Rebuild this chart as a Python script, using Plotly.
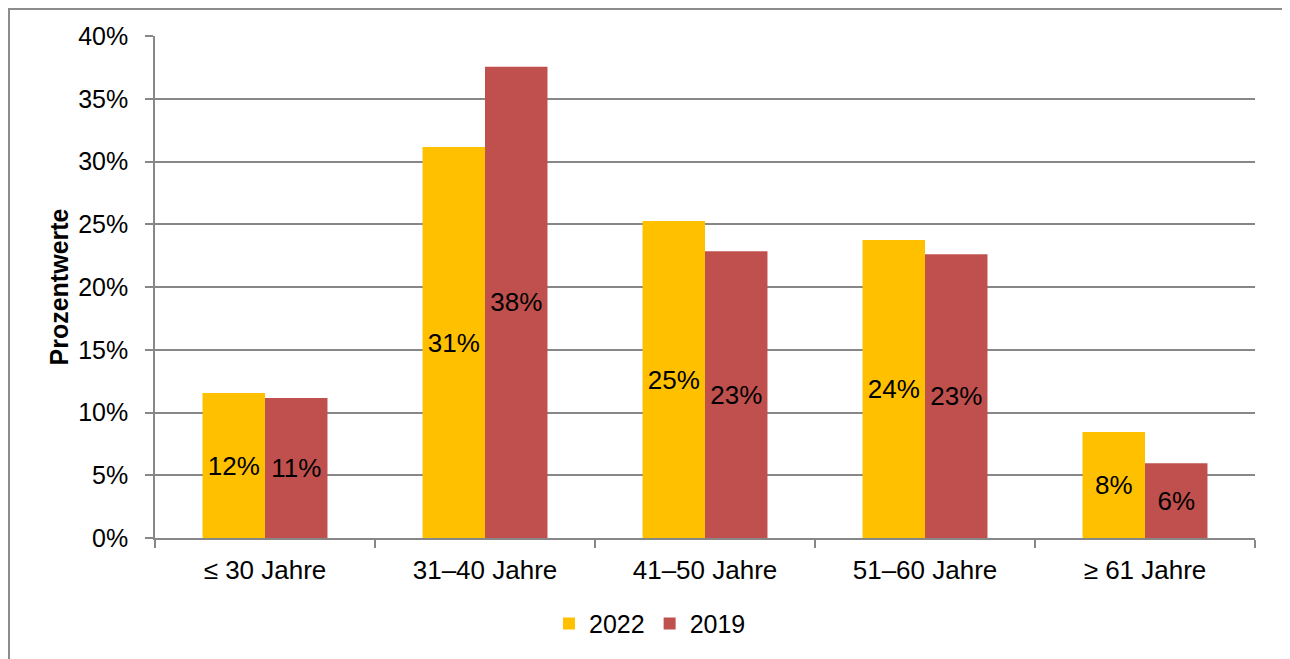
import plotly.graph_objects as go

categories = ["≤ 30 Jahre", "31–40 Jahre", "41–50 Jahre", "51–60 Jahre", "≥ 61 Jahre"]
values_2022 = [11.55, 31.15, 25.25, 23.75, 8.45]
values_2019 = [11.15, 37.55, 22.85, 22.6, 5.95]
y_ticks = [0, 5, 10, 15, 20, 25, 30, 35, 40]
y_tick_labels = [f"{v}%" for v in y_ticks]

FONT = "Liberation Sans, Arial, sans-serif"
GRID = "#878787"

# figure-pixel geometry (page is offset by the 8px body margin)
L, R, T, B = 147, 43, 28, 129
W, H = 1290, 659
PW, PH = W - L - R, H - T - B


def px_to_paper_x(fx):
    return (fx - L) / PW


def px_to_paper_y(fy):
    return (H - B - fy) / PH


fig = go.Figure()
for name, vals, color in [("2022", values_2022, "#FFC000"), ("2019", values_2019, "#C0504D")]:
    fig.add_trace(go.Bar(
        name=name, x=categories, y=vals,
        marker=dict(color=color, line=dict(width=0)),
        text=[f"{round(v):.0f}%" for v in vals],
        textposition="inside", insidetextanchor="middle",
        textfont=dict(family=FONT, size=26, color="#000000"),
        textangle=0, cliponaxis=False,
    ))

fig.update_layout(
    width=W, height=H,
    margin=dict(l=L, r=R, t=T, b=B),
    paper_bgcolor="white", plot_bgcolor="white",
    barmode="group", bargap=0.432, bargroupgap=0,
    font=dict(family=FONT, size=25, color="#000000"),
    uniformtext=dict(mode=False),
    legend=dict(orientation="h", x=0.45, xanchor="center", y=-0.125, yanchor="top",
                font=dict(family=FONT, size=25), itemsizing="constant",
                traceorder="normal", itemwidth=30),
    showlegend=True,
)
fig.update_yaxes(
    range=[0, 40], tickvals=y_ticks, ticktext=y_tick_labels,
    showgrid=True, gridcolor=GRID, gridwidth=1.5,
    showline=True, linecolor=GRID, linewidth=1.5,
    ticks="outside", ticklen=8, tickcolor=GRID, tickwidth=1.5,
    ticklabelstandoff=12,
    tickfont=dict(family=FONT, size=25), zeroline=False,
    title=dict(text="<b>Prozentwerte</b>", font=dict(family=FONT, size=25), standoff=2),
)
fig.update_xaxes(
    showline=True, linecolor=GRID, linewidth=1.5,
    ticks="outside", ticklen=8, tickcolor=GRID, tickwidth=1.5,
    tickson="boundaries", tickfont=dict(family=FONT, size=26),
    ticklabelstandoff=8,
    showgrid=False,
)
fig.add_shape(type="rect", xref="paper", yref="paper",
              x0=px_to_paper_x(1), x1=px_to_paper_x(1277),
              y0=px_to_paper_y(H + 20), y1=px_to_paper_y(1),
              line=dict(color="#8C8C8C", width=2), fillcolor="rgba(0,0,0,0)", layer="below")

fig.write_html("out.html")
